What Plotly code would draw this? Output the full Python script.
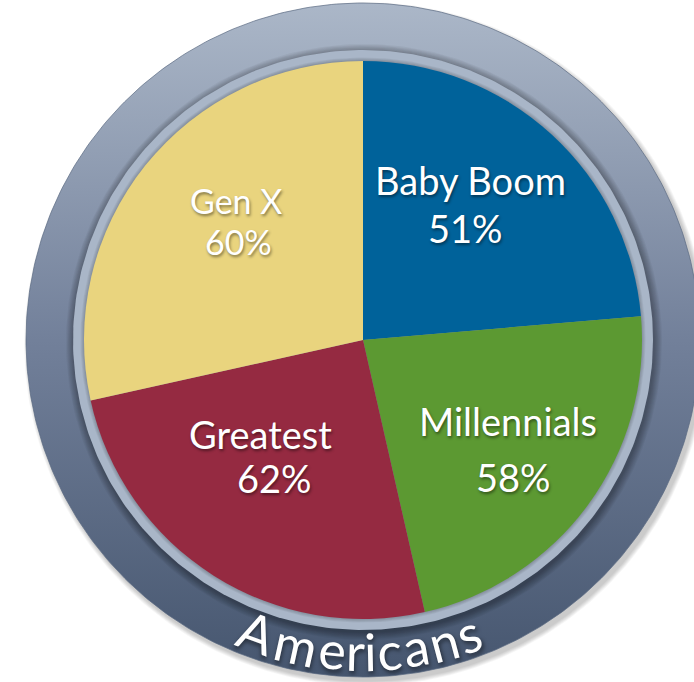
import numpy as np
import plotly.graph_objects as go

# ---- data ----
generations = ["Baby Boom", "Millennials", "Greatest", "Gen X"]
percent_labels = ["51%", "58%", "62%", "60%"]
slice_share = [85.1, 82.1, 90.3, 102.5]   # slice sizes (degrees of the pie)
slice_colors = ["#00629a", "#5c9932", "#952a41", "#e9d47e"]
ring_title = "Americans"

# ---- layout geometry (pixels, y measured downward) ----
W, H = 694, 682
CX, CY = 363, 340
R_PIE = 279
R_BORDER = 290
R_OUTER = 337


def circle(r, cx=CX, cy=CY, n=400):
    t = np.linspace(0, 2 * np.pi, n + 1)
    return cx + r * np.cos(t), H - (cy + r * np.sin(t))


fig = go.Figure()

# soft drop shadow of the outer ring
for k in range(1, 7):
    x, y = circle(R_OUTER + k * 0.8, CX + 3, CY + 4)
    fig.add_trace(go.Scatter(x=x, y=y, mode="lines", fill="toself",
                             fillcolor="rgba(0,0,0,0.035)", line=dict(width=0),
                             hoverinfo="skip"))

# outer ring with vertical gradient
x, y = circle(R_OUTER)
fig.add_trace(go.Scatter(
    x=x, y=y, mode="lines", fill="toself",
    fillgradient=dict(type="vertical",
                      colorscale=[[0, "#46566f"], [0.5, "#72809a"], [1, "#abb7c8"]],
                      start=H - (CY + R_OUTER), stop=H - (CY - R_OUTER)),
    line=dict(width=1, color="rgba(90,105,130,0.7)"), hoverinfo="skip"))

# shadow cast by the light border ring onto the outer ring
for k in range(1, 9):
    x, y = circle(R_BORDER + k * 1.0, CX + 1, CY + 2)
    fig.add_trace(go.Scatter(x=x, y=y, mode="lines", fill="toself",
                             fillcolor="rgba(0,0,0,0.045)", line=dict(width=0),
                             hoverinfo="skip"))

# light border ring
x, y = circle(R_BORDER)
fig.add_trace(go.Scatter(x=x, y=y, mode="lines", fill="toself",
                         fillcolor="#a9b6c8", line=dict(width=0), hoverinfo="skip"))

# shadow of the pie onto the border ring
for k in range(1, 5):
    x, y = circle(R_PIE + k * 0.9, CX, CY)
    fig.add_trace(go.Scatter(x=x, y=y, mode="lines", fill="toself",
                             fillcolor="rgba(0,0,0,0.05)", line=dict(width=0),
                             hoverinfo="skip"))

# the pie
fig.add_trace(go.Pie(
    labels=generations, values=slice_share, sort=False, direction="clockwise",
    rotation=0, marker=dict(colors=slice_colors, line=dict(width=0)),
    textinfo="none", hoverinfo="skip",
    domain=dict(x=[(CX - R_PIE) / W, (CX + R_PIE) / W],
                y=[(H - CY - R_PIE) / H, (H - CY + R_PIE) / H]),
))

FONT = "Lato"
SHADOW = "1px 2px 3px rgba(0,0,0,0.45)"

# slice labels (name line, percent line) – positions in pixels
name_pos = [(470, 180), (508, 421), (260, 434), (236, 200)]
pct_pos = [(465, 228), (513, 477), (274, 478), (238, 241)]
label_size = [38, 38, 38, 34]
annotations = []
for name, pct, (nx, ny), (px, py), fs in zip(generations, percent_labels,
                                              name_pos, pct_pos, label_size):
    for txt, (ax, ay) in ((name, (nx, ny)), (pct, (px, py))):
        annotations.append(dict(
            x=ax, y=H - ay, xref="x", yref="y", text=txt, showarrow=False,
            xanchor="center", yanchor="middle", borderpad=0,
            font=dict(family=FONT, size=fs, color="white", shadow=SHADOW)))

# curved title along the bottom of the ring
letter_x = [257, 296, 332, 355, 370, 389, 416, 443, 468]
R_TEXT = 311
for ch, lx in zip(ring_title, letter_x):
    th = np.arcsin((lx - CX) / R_TEXT)
    px = CX + R_TEXT * np.sin(th)
    py = CY + R_TEXT * np.cos(th)
    annotations.append(dict(
        x=px, y=H - py, xref="x", yref="y", text=ch, showarrow=False,
        xanchor="center", yanchor="middle", textangle=-np.degrees(th),
        font=dict(family=FONT, size=52, color="white",
                  shadow="1px 3px 4px rgba(0,0,0,0.5)")))

fig.update_layout(
    width=W, height=H, margin=dict(l=0, r=0, t=0, b=0),
    paper_bgcolor="white", plot_bgcolor="white", showlegend=False,
    xaxis=dict(range=[0, W], visible=False, fixedrange=True),
    yaxis=dict(range=[0, H], visible=False, fixedrange=True),
    annotations=annotations,
)

fig.write_html("out.html",
               config={"displayModeBar": False, "staticPlot": True},
               post_script="document.body.style.margin='0px';document.body.style.overflow='hidden';")
